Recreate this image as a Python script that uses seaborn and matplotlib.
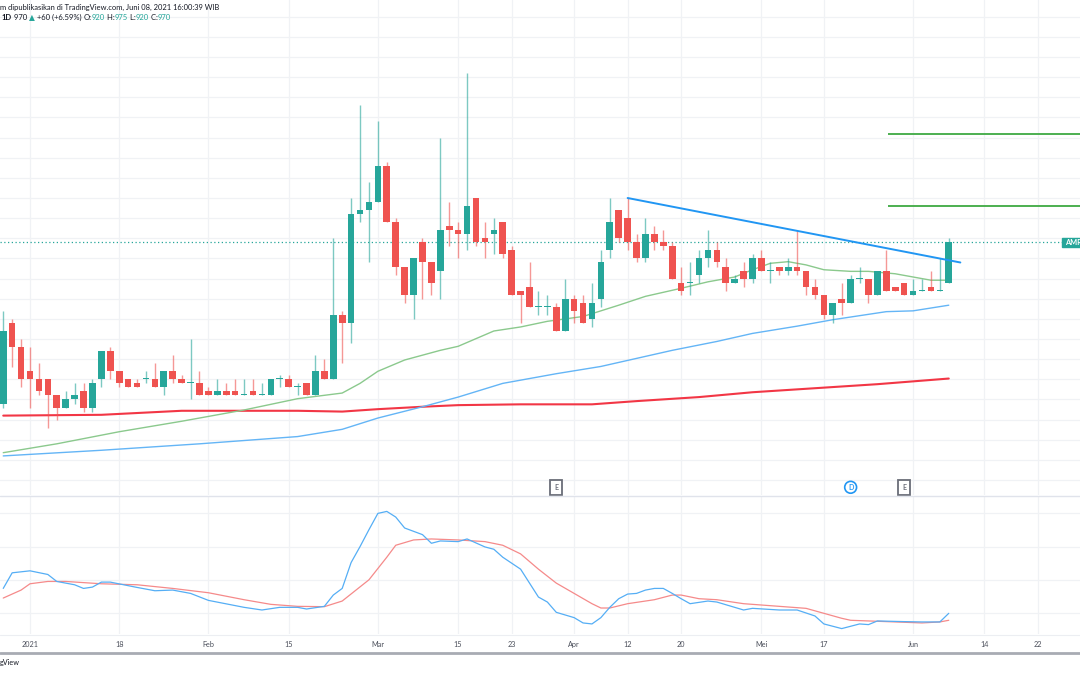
import matplotlib
matplotlib.use("Agg")
import matplotlib.pyplot as plt
import matplotlib.transforms as mtransforms
from matplotlib.patches import Rectangle
import seaborn as sns

# ---------------- data ----------------
bar_idx = list(range(-3, 104))   # trading-day index, 0 = 4 Jan 2021
opens = [770, 870, 840,
         810, 800, 800, 780, 765, 775, 785, 765, 800, 835,
         810, 800, 795, 800, 800, 790, 810, 800, 795, 795,
         785, 780, 785, 785, 780, 785, 780, 780, 800, 800,
         790, 795, 780, 810, 800, 880, 870, 1005, 1010, 1020,
         1065, 995, 940, 905, 970, 945, 935, 990, 985, 980,
         1025, 975, 980, 995, 960, 910, 915, 890, 890, 890,
         860, 900, 895, 875, 900, 960, 1010, 1000, 970, 950,
         980, 970, 965, 920, 920, 930, 950, 960, 940, 920,
         935, 925, 950, 935, 940, 935, 940, 935, 915, 905,
         880, 900, 895, 925, 925, 905, 935, 915, 920, 905,
         910, 915, 910, 920]
highs = [885, 875, 850,
         840, 820, 800, 780, 785, 795, 795, 800, 835, 840,
         810, 800, 800, 810, 820, 810, 830, 805, 850, 810,
         790, 800, 795, 800, 800, 800, 795, 800, 805, 805,
         795, 795, 830, 825, 975, 885, 1025, 1140, 1045, 1120,
         1070, 1000, 940, 950, 975, 945, 1100, 1020, 995, 1180,
         1025, 995, 1000, 995, 965, 910, 945, 910, 905, 895,
         925, 905, 905, 920, 960, 1025, 1010, 1025, 980, 1000,
         990, 985, 970, 940, 945, 960, 985, 970, 950, 930,
         945, 955, 960, 945, 940, 950, 985, 935, 925, 905,
         895, 920, 930, 940, 925, 935, 960, 915, 920, 925,
         925, 935, 950, 975]
lows = [765, 815, 790,
        765, 780, 740, 750, 765, 770, 760, 760, 790, 800,
        790, 790, 790, 795, 790, 780, 795, 795, 775, 780,
        780, 780, 780, 780, 780, 780, 780, 780, 790, 790,
        780, 780, 780, 800, 800, 820, 845, 995, 945, 1020,
        995, 930, 895, 875, 900, 905, 900, 965, 950, 960,
        965, 950, 955, 950, 905, 870, 890, 880, 880, 860,
        860, 870, 870, 865, 890, 950, 970, 960, 945, 945,
        960, 960, 925, 905, 905, 920, 940, 940, 910, 920,
        915, 920, 935, 920, 930, 930, 930, 905, 900, 875,
        870, 880, 895, 920, 895, 905, 910, 910, 905, 905,
        910, 910, 910, 920]
closes = [860, 840, 800,
          800, 785, 780, 765, 775, 780, 765, 795, 835, 810,
          795, 790, 790, 800, 790, 810, 800, 795, 795, 780,
          780, 785, 780, 780, 780, 780, 780, 800, 800, 790,
          790, 780, 810, 800, 880, 870, 1005, 1010, 1020, 1065,
          995, 940, 905, 950, 945, 920, 985, 985, 980, 1015,
          970, 970, 985, 955, 905, 905, 890, 890, 890, 860,
          900, 885, 870, 895, 945, 995, 975, 970, 950, 980,
          970, 965, 925, 910, 920, 950, 960, 945, 920, 925,
          925, 950, 935, 935, 935, 940, 935, 915, 905, 880,
          895, 895, 925, 925, 905, 935, 910, 910, 905, 910,
          910, 910, 910, 970]

tick_idx = [0, 10, 20, 29, 39, 48, 54, 61, 67, 73, 82, 89, 99, 107, 113]
tick_labels = ["2021", "18", "Feb", "15", "Mar", "15", "23", "Apr",
               "12", "20", "Mei", "17", "Jun", "14", "22"]

ma_green_idx = [-3, 3, 10, 17, 24, 30, 35, 37, 39, 42, 46, 48, 52, 55, 58, 62,
                66, 69, 73, 76, 79, 81, 83, 85, 87, 89, 92, 94, 97, 99, 101, 103]
ma_green = [709, 720, 735, 748, 762, 776, 783, 795, 810, 824, 836, 841, 860, 865, 872, 878,
            892, 903, 913, 921, 927, 936, 944, 946, 942, 936, 934, 934, 931, 927, 923, 923]

ma_blue_idx = [-3, 8, 19, 30, 35, 39, 44, 48, 53, 59, 64, 68, 72, 77, 81, 86, 90, 96, 99, 103]
ma_blue = [705, 712, 720, 729, 738, 752, 766, 778, 795, 807, 816, 826, 836, 847, 857, 866,
           874, 884, 885, 892]

ma_red_idx = [-3, 8, 17, 30, 35, 39, 44, 48, 55, 63, 68, 75, 81, 88, 95, 103]
ma_red = [755, 756, 761, 761, 760, 763, 766, 768, 769, 769, 773, 778, 784, 789, 794, 801]

osc_fast_idx = [-3, -2, 0, 2, 3, 5, 6, 7, 8, 9, 12, 14, 16, 18, 20, 24, 26, 28, 30, 31,
                33, 34, 35, 36, 37, 38, 39, 40, 41, 42, 44, 45, 46, 48, 49, 51, 52, 53, 55, 57,
                58, 59, 61, 62, 63, 64, 65, 66, 67, 68, 69, 70, 71, 72, 73, 74, 76, 77, 79, 80,
                81, 84, 86, 88, 89, 91, 93, 94, 95, 98, 100, 102, 103]
osc_fast = [7.4, 12.1, 12.7, 11.6, 9.5, 8.5, 7.4, 7.8, 9.3, 9.3, 7.7, 6.7, 6.9, 5.9, 3.8, 1.7,
            0.9, 1.7, 1.7, 1.2, 2.0, 5.4, 7.4, 15.2, 20.0, 25.1, 30.0, 30.6, 28.9, 25.6, 23.6,
            21.0, 21.7, 21.5, 22.3, 19.9, 19.2, 16.8, 13.2, 4.8, 3.3, 0.2, -1.4, -3.0, -3.3,
            -1.4, 1.7, 4.3, 5.7, 5.9, 6.9, 7.4, 7.4, 5.9, 4.3, 2.8, 3.6, 3.3, 1.7, 0.9, 1.4,
            0.9, 0.9, -0.9, -3.3, -4.7, -3.3, -3.5, -2.4, -2.6, -2.7, -2.7, -0.1]

osc_slow_idx = [-3, -1, 0, 2, 4, 8, 12, 16, 20, 24, 27, 30, 33, 35, 38, 40, 41, 43, 45, 48,
                51, 53, 55, 57, 59, 61, 63, 64, 65, 67, 70, 72, 73, 75, 77, 80, 84, 87, 89, 91,
                92, 96, 100, 102, 103]
osc_slow = [4.5, 6.9, 8.8, 9.5, 9.5, 8.8, 8.5, 7.4, 6.1, 4.0, 2.6, 2.0, 1.9, 3.6, 10.0, 16.8,
            20.4, 22.0, 22.3, 22.0, 21.5, 20.4, 17.8, 13.2, 9.0, 5.9, 2.8, 1.5, 1.5, 2.8, 4.0,
            5.4, 5.4, 4.3, 4.0, 2.8, 2.0, 1.4, -0.1, -1.6, -2.2, -2.6, -3.0, -2.7, -2.2]

trend_idx = [67, 104.3]
trend_price = [1025, 945]
target_start_idx = 96.2
target_levels = [1105, 1015]
last_price = 970
event_idx = [59, 92, 98]
event_kind = ["E", "D", "E"]

# ---------------- styling ----------------
sns.set_theme(style="white")
plt.rcParams['font.family'] = ['Lato', 'DejaVu Sans']

UP, DOWN = "#26a69a", "#ef5350"
GRID = "#f0f2f5"
TXT = "#131722"
W, H = 1080, 675

fig = plt.figure(figsize=(10.8, 6.75), dpi=100)
fig.patch.set_facecolor("white")


def rect(x0, y0, x1, y1):
    return [x0 / W, 1 - y1 / H, (x1 - x0) / W, (y1 - y0) / H]


ax = fig.add_axes(rect(0, 0, 1080, 495))
ax2 = fig.add_axes(rect(0, 496, 1080, 634), sharex=ax)

XMIN, XMAX = -30 / 8.92, 1050 / 8.92
for a in (ax, ax2):
    a.set_facecolor("white")
    for s in a.spines.values():
        s.set_visible(False)
    a.set_xlim(XMIN, XMAX)
    for t in tick_idx:
        a.axvline(t, color=GRID, lw=0.9, zorder=0)

ax.set_ylim(656.5, 1270.7)
for p in range(675, 1275, 25):
    ax.axhline(p, color=GRID, lw=0.9, zorder=0)
ax2.set_ylim(-6.33, 35.24)
for v in (0, 10, 20, 30):
    ax2.axhline(v, color=GRID, lw=0.9, zorder=0)

# ---------------- candles ----------------
colors = [UP if c >= o else DOWN for o, c in zip(opens, closes)]
bottoms = [min(o, c) for o, c in zip(opens, closes)]
heights = [max(abs(c - o), 1.3) for o, c in zip(opens, closes)]
ax.vlines(bar_idx, lows, highs, colors=colors, linewidth=1.0, alpha=0.6, zorder=3)
ax.bar(bar_idx, heights, bottom=bottoms, width=0.74, color=colors, linewidth=0, zorder=4)

# ---------------- moving averages ----------------
sns.lineplot(x=ma_red_idx, y=ma_red, ax=ax, color="#f23645", linewidth=1.5, zorder=2)
sns.lineplot(x=ma_blue_idx, y=ma_blue, ax=ax, color="#64b5f6", linewidth=1.0, zorder=2)
sns.lineplot(x=ma_green_idx, y=ma_green, ax=ax, color="#8bc98d", linewidth=1.0, zorder=2)

# ---------------- drawings ----------------
ax.plot(trend_idx, trend_price, color="#2196f3", linewidth=1.4, zorder=5)
ax.hlines(target_levels, target_start_idx, XMAX, color="#4caf50", linewidth=1.4, zorder=5)
ax.hlines(last_price, XMIN, (1062 - 30) / 8.92, color=UP, linewidth=0.9,
          linestyles=(0, (1, 2)), zorder=1)
ax.add_patch(Rectangle(((1062 - 30) / 8.92, 963.8), 5, 11.2, color=UP, zorder=6,
                       clip_on=True))
ax.text((1065 - 30) / 8.92, last_price, "AMR", color="white", fontsize=5.3,
        va="center", ha="left", zorder=7, fontweight="bold")

blend = mtransforms.blended_transform_factory(ax.transData, ax.transAxes)
for xi, kind in zip(event_idx, event_kind):
    if kind == "D":
        ax.text(xi, 0.0156, kind, transform=blend, ha="center", va="center", fontsize=5,
                color="#2196f3", zorder=8, fontweight="bold",
                bbox=dict(boxstyle="circle,pad=0.35", fc="white", ec="#2196f3", lw=1.2))
    else:
        ax.text(xi, 0.0156, kind, transform=blend, ha="center", va="center", fontsize=5,
                color="#6a6d78", zorder=8, fontweight="bold",
                bbox=dict(boxstyle="square,pad=0.55", fc="white", ec="#6a6d78", lw=1.3))

# ---------------- oscillator ----------------
sns.lineplot(x=osc_slow_idx, y=osc_slow, ax=ax2, color="#f58a8a", linewidth=0.9)
sns.lineplot(x=osc_fast_idx, y=osc_fast, ax=ax2, color="#55aef5", linewidth=0.9)

for a in (ax, ax2):
    a.set_xlabel("")
    a.set_ylabel("")
    a.set_yticks([])
ax.tick_params(axis="x", which="both", bottom=False, labelbottom=False)
ax2.set_xticks(tick_idx)
ax2.set_xticklabels(tick_labels)
ax2.tick_params(axis="x", length=0, pad=5, labelsize=5.2, labelcolor="#4a4e5a")

# ---------------- frame lines ----------------
fig.add_artist(plt.Line2D([0, 1], [1 - 495.5 / H] * 2, color="#e0e3eb", lw=1.0))
fig.add_artist(plt.Line2D([0, 1], [1 - 635 / H] * 2, color="#eceef2", lw=0.8))
fig.add_artist(plt.Line2D([0, 1], [1 - 652.5 / H] * 2, color="#a8abb3", lw=2.0))

# ---------------- header text ----------------
fig.text(0 / W, 1 - 7 / H, "m dipublikasikan di TradingView.com, Juni 08, 2021 16:00:39 WIB",
         color=TXT, fontsize=5.4, va="center", ha="left")
fig.canvas.draw()
renderer = fig.canvas.get_renderer()
pieces = [("1D", TXT, "bold"), (" 970 ", TXT, "normal"), ("\u25B2", UP, "normal"),
          (" +60 (+6.59%) ", TXT, "normal"), ("O:", TXT, "normal"), ("920", UP, "normal"),
          (" H:", TXT, "normal"), ("975", UP, "normal"), (" L:", TXT, "normal"),
          ("920", UP, "normal"), (" C:", TXT, "normal"), ("970", UP, "normal")]
xpos = 2.0
for txt, col, wt in pieces:
    t = fig.text(xpos / W, 1 - 17.5 / H, txt, color=col, fontsize=5.5, fontweight=wt,
                 va="center", ha="left")
    bb = t.get_window_extent(renderer=renderer)
    xpos = bb.x1

fig.text(0, 1 - 663 / H, "gView", color=TXT, fontsize=5.2, va="center", ha="left")

fig.savefig("out.png", dpi=100)
